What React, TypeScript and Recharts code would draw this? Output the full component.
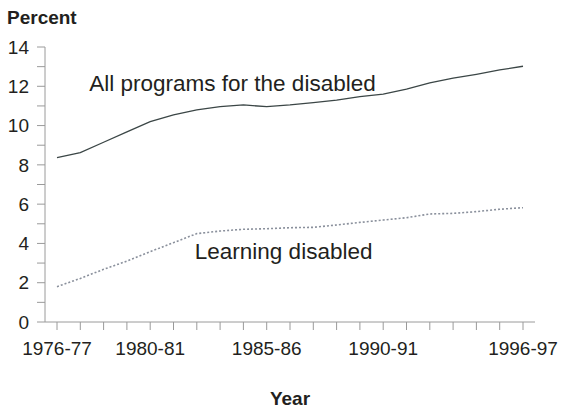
import React from 'react';
import { LineChart, Line, XAxis, YAxis, ReferenceDot, Label } from 'recharts';

const years = [
  '1976-77', '1977-78', '1978-79', '1979-80', '1980-81', '1981-82', '1982-83',
  '1983-84', '1984-85', '1985-86', '1986-87', '1987-88', '1988-89', '1989-90',
  '1990-91', '1991-92', '1992-93', '1993-94', '1994-95', '1995-96', '1996-97',
];
const allPrograms = [
  8.37, 8.62, 9.15, 9.68, 10.2, 10.54, 10.8, 10.96, 11.05, 10.96, 11.05,
  11.17, 11.3, 11.47, 11.6, 11.85, 12.17, 12.41, 12.61, 12.83, 13.02,
];
const learningDisabled = [
  1.8, 2.22, 2.68, 3.1, 3.58, 4.04, 4.5, 4.63, 4.72, 4.75, 4.8,
  4.82, 4.94, 5.07, 5.19, 5.31, 5.5, 5.53, 5.62, 5.74, 5.82,
];
const labeledYears = ['1976-77', '1980-81', '1985-86', '1990-91', '1996-97'];
const yTicks = [0, 1, 2, 3, 4, 5, 6, 7, 8, 9, 10, 11, 12, 13, 14];
const yLabeledTicks = [0, 2, 4, 6, 8, 10, 12, 14];

const data = years.map((year, i) => ({
  year,
  all: allPrograms[i],
  ld: learningDisabled[i],
}));

const FONT = '"Liberation Sans", Arial, Helvetica, sans-serif';
const TEXT = '#231f20';
const AXIS = '#9a9a9a';

const XTick = (props: any) => {
  const { x, y, payload } = props;
  if (!labeledYears.includes(payload.value)) return <g />;
  return (
    <text x={x} y={y + 23} textAnchor="middle" fontSize={19} fontFamily={FONT} fill={TEXT}>
      {payload.value}
    </text>
  );
};

const YTick = (props: any) => {
  const { x, y, payload } = props;
  if (!yLabeledTicks.includes(payload.value)) return <g />;
  return (
    <text x={x} y={y} dy="0.355em" textAnchor="end" fontSize={19} fontFamily={FONT} fill={TEXT}>
      {payload.value}
    </text>
  );
};

const annotation = (text: string, dx: number) => (props: any) => {
  const vb = props.viewBox || { x: 0, y: 0 };
  return (
    <text x={vb.x + dx} y={vb.y} dy="0.355em" fontSize={22.5} fontFamily={FONT} fill={TEXT}>
      {text}
    </text>
  );
};

export default function App() {
  return (
    <div style={{ position: 'absolute', left: 0, top: 0, width: 561, height: 408, background: '#fff' }}>
      <LineChart width={561} height={408} data={data} margin={{ top: 47, right: 26, left: 0, bottom: 0 }}>
        <XAxis
          dataKey="year"
          interval={0}
          tickSize={8}
          tickMargin={2}
          height={86}
          padding={{ left: 12, right: 12 }}
          stroke={AXIS}
          tick={<XTick />}
        >
          <Label
            content={(p: any) => {
              const vb = p.viewBox || { x: 0, width: 0 };
              return (
                <text x={vb.x + vb.width / 2} y={405} textAnchor="middle" fontSize={19} fontWeight="bold" fontFamily={FONT} fill={TEXT}>
                  Year
                </text>
              );
            }}
          />
        </XAxis>
        <YAxis
          width={45}
          domain={[0, 14]}
          ticks={yTicks}
          interval={0}
          tickSize={8}
          tickMargin={8}
          stroke={AXIS}
          tick={<YTick />}
        >
          <Label
            content={() => (
              <text x={7} y={24} fontSize={19} fontWeight="bold" fontFamily={FONT} fill={TEXT}>
                Percent
              </text>
            )}
          />
        </YAxis>
        <Line
          type="linear"
          dataKey="all"
          stroke="#3b4646"
          strokeWidth={1.3}
          dot={false}
          isAnimationActive={false}
        />
        <Line
          type="linear"
          dataKey="ld"
          stroke="#8a909c"
          strokeWidth={1.6}
          strokeDasharray="2 2"
          dot={false}
          isAnimationActive={false}
        />
        <ReferenceDot x="1977-78" y={12.17} r={0} fill="none" stroke="none" label={annotation('All programs for the disabled', 9)} />
        <ReferenceDot x="1982-83" y={3.61} r={0} fill="none" stroke="none" label={annotation('Learning disabled', -2)} />
      </LineChart>
    </div>
  );
}
